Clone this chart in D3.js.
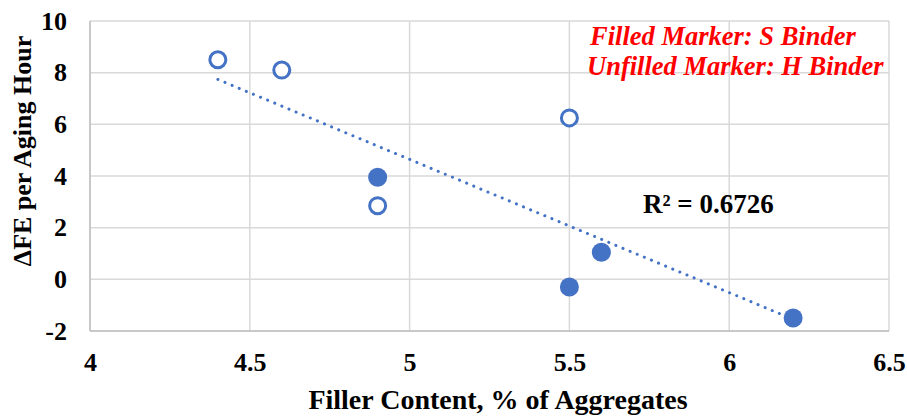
<!DOCTYPE html>
<html><head><meta charset="utf-8">
<script src="https://cdn.jsdelivr.net/npm/d3@7"></script>
<style>body{margin:0;background:#fff}svg{display:block}</style>
</head><body><svg id="c" width="907" height="416"></svg>
<script>
const filledX = [4.9, 5.5, 5.6, 6.2];
const filledY = [3.95, -0.3, 1.05, -1.5];
const unfilledX = [4.4, 4.6, 4.9, 5.5];
const unfilledY = [8.5, 8.1, 2.85, 6.25];
const xTicks = [4, 4.5, 5, 5.5, 6, 6.5];
const yTicks = [-2, 0, 2, 4, 6, 8, 10];
const xTitle = "Filler Content, % of Aggregates";
const yTitle = "ΔFE per Aging Hour";
const note1 = "Filled Marker: S Binder";
const note2 = "Unfilled Marker: H Binder";
const r2Label = "R² = 0.6726";

const FONT = "'Liberation Serif','Times New Roman',serif";
const svg = d3.select("#c");
const L = 90, R = 889, T = 21, B = 331;
const x = d3.scaleLinear().domain([4, 6.5]).range([L, R]);
const y = d3.scaleLinear().domain([-2, 10]).range([B, T]);
const blue = "#4472C4";

// gridlines
const g = svg.append("g");
g.selectAll(".hg").data(yTicks).join("line")
  .attr("x1", L).attr("x2", R).attr("y1", d => y(d)).attr("y2", d => y(d))
  .attr("stroke", "#d9d9d9").attr("stroke-width", 1.5);
g.selectAll(".vg").data(xTicks).join("line")
  .attr("y1", T).attr("y2", B).attr("x1", d => x(d)).attr("x2", d => x(d))
  .attr("stroke", "#d9d9d9").attr("stroke-width", 1.5);
svg.append("line").attr("x1", L).attr("x2", R).attr("y1", B).attr("y2", B).attr("stroke", "#bfbfbf").attr("stroke-width", 1.5);
svg.append("line").attr("x1", L).attr("x2", L).attr("y1", T).attr("y2", B).attr("stroke", "#bfbfbf").attr("stroke-width", 1.5);

// axes
const fmt = d => String(d);
const xa = svg.append("g").attr("transform", `translate(0,${B})`)
  .call(d3.axisBottom(x).tickValues(xTicks).tickSize(0).tickPadding(22).tickFormat(fmt));
const ya = svg.append("g").attr("transform", `translate(${L},0)`)
  .call(d3.axisLeft(y).tickValues(yTicks).tickSize(0).tickPadding(23).tickFormat(fmt));
[xa, ya].forEach(a => {
  a.select(".domain").remove();
  a.selectAll("text").style("font-family", FONT).style("font-weight", "bold").style("font-size", "26px").attr("fill", "#000");
});

// trendline (least squares over all points)
const allX = filledX.concat(unfilledX), allY = filledY.concat(unfilledY);
const mx = d3.mean(allX), my = d3.mean(allY);
const slope = d3.sum(allX.map((v, i) => (v - mx) * (allY[i] - my))) / d3.sum(allX.map(v => (v - mx) ** 2));
const icpt = my - slope * mx;
const [x0, x1] = d3.extent(allX);
svg.append("line")
  .attr("x1", x(x0)).attr("y1", y(icpt + slope * x0))
  .attr("x2", x(x1)).attr("y2", y(icpt + slope * x1))
  .attr("stroke", blue).attr("stroke-width", 3).attr("stroke-linecap", "round")
  .attr("stroke-dasharray", "0.1 7.6");

// markers
svg.selectAll(".f").data(filledX).join("circle")
  .attr("cx", d => x(d)).attr("cy", (d, i) => y(filledY[i])).attr("r", 9.5).attr("fill", blue);
svg.selectAll(".u").data(unfilledX).join("circle")
  .attr("cx", d => x(d)).attr("cy", (d, i) => y(unfilledY[i])).attr("r", 8).attr("fill", "#fff")
  .attr("stroke", blue).attr("stroke-width", 3);

function txt(t) { return t.style("font-family", FONT).style("font-weight", "bold"); }
// titles
txt(svg.append("text").attr("x", 498).attr("y", 409).attr("text-anchor", "middle").style("font-size", "28px").text(xTitle));
txt(svg.append("text").attr("transform", "translate(31,151) rotate(-90)").attr("text-anchor", "middle").style("font-size", "26px").text(yTitle));

// notes
txt(svg.append("text").attr("x", 590).attr("y", 45).attr("fill", "#ff0000").style("font-style", "italic").style("font-size", "26.5px").text(note1));
txt(svg.append("text").attr("x", 587).attr("y", 75).attr("fill", "#ff0000").style("font-style", "italic").style("font-size", "26.5px").text(note2));
txt(svg.append("text").attr("x", 643).attr("y", 213).style("font-size", "27px").text(r2Label));
</script></body></html>
